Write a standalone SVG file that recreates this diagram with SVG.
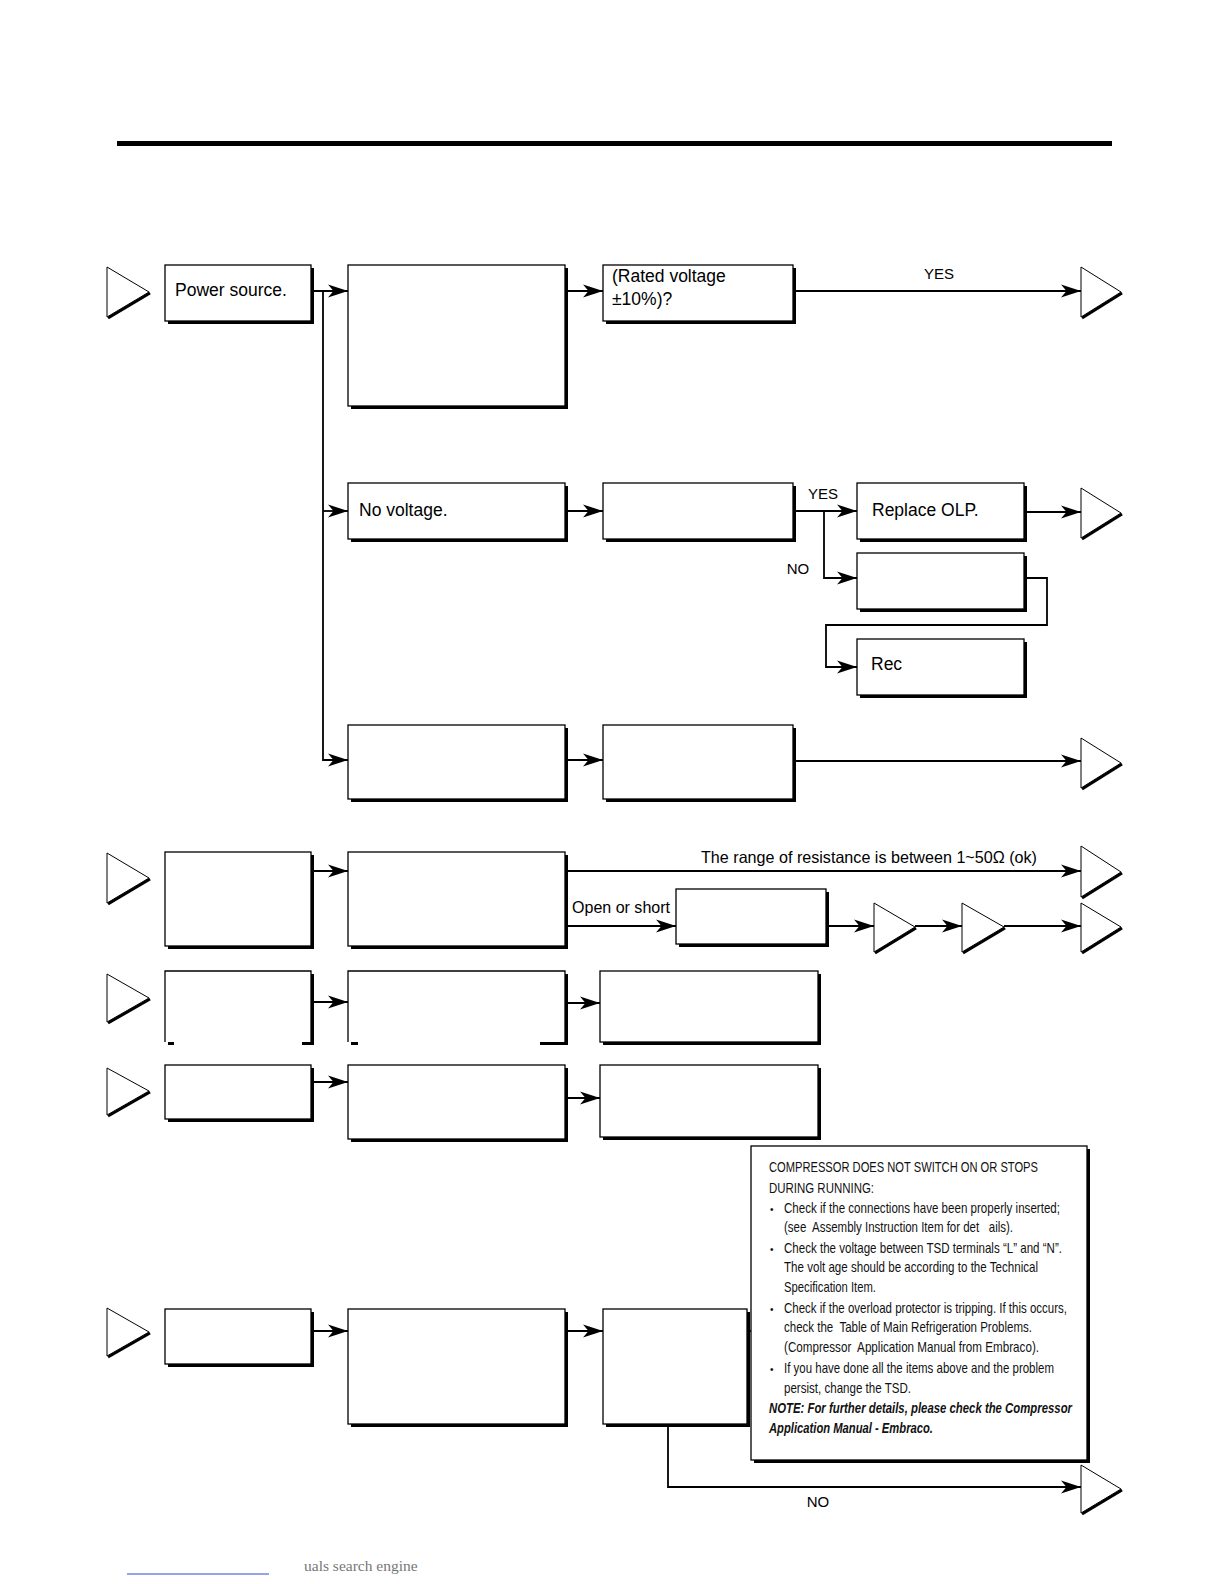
<svg xmlns="http://www.w3.org/2000/svg" width="1224" height="1584" viewBox="0 0 1224 1584">
<style>
.box{fill:#fff;stroke:#000;stroke-width:1.3}
.sh{fill:#000}
.ln{fill:none;stroke:#000;stroke-width:1.8}
.tri{fill:#fff;stroke:#000;stroke-width:1}
.trs{stroke:#000;stroke-width:3;fill:none}
.t{font-family:"Liberation Sans",Arial,Helvetica,sans-serif;font-size:17.5px;fill:#000}
.l{font-family:"Liberation Sans",Arial,Helvetica,sans-serif;font-size:15px;fill:#000}
.lc{font-family:"Liberation Sans",Arial,Helvetica,sans-serif;font-size:16.5px;fill:#000}
.n{font-family:"Liberation Sans",Arial,Helvetica,sans-serif;font-size:15px;fill:#111;white-space:pre}
.nb{font-family:"Liberation Sans",Arial,Helvetica,sans-serif;font-size:15px;font-weight:bold;font-style:italic;fill:#111}
</style>
<defs>
<marker id="ah" markerWidth="22" markerHeight="16" refX="20" refY="7.5" orient="auto" markerUnits="userSpaceOnUse"><path d="M0,1 L20,7.5 L0,14 L5.5,7.5 z" fill="#000"/></marker>
</defs>
<rect x="117" y="141" width="995" height="5" fill="#000"/>

<g id="connectors">
<path class="ln" d="M311,291 H348" marker-end="url(#ah)"/>
<path class="ln" d="M323,291 V760 H348" marker-end="url(#ah)"/>
<path class="ln" d="M323,511 H348" marker-end="url(#ah)"/>
<path class="ln" d="M565,291 H603" marker-end="url(#ah)"/>
<path class="ln" d="M793,291 H1081" marker-end="url(#ah)"/>
<text class="l" x="939" y="279" text-anchor="middle">YES</text>
<path class="ln" d="M565,511 H603" marker-end="url(#ah)"/>
<path class="ln" d="M793,511 H857" marker-end="url(#ah)"/>
<text class="l" x="823" y="499" text-anchor="middle">YES</text>
<path class="ln" d="M824,511 V578 H857" marker-end="url(#ah)"/>
<text class="l" x="798" y="574" text-anchor="middle">NO</text>
<path class="ln" d="M1024,512 H1081" marker-end="url(#ah)"/>
<path class="ln" d="M1024,578 H1047 V625 H826 V667 H857" marker-end="url(#ah)"/>
<path class="ln" d="M565,760 H603" marker-end="url(#ah)"/>
<path class="ln" d="M793,761 H1081" marker-end="url(#ah)"/>
<path class="ln" d="M311,871 H348" marker-end="url(#ah)"/>
<path class="ln" d="M565,871 H1081" marker-end="url(#ah)"/>
<text class="lc" x="701" y="863" textLength="336" lengthAdjust="spacingAndGlyphs">The range of resistance is between 1~50Ω (ok)</text>
<path class="ln" d="M565,926 H676" marker-end="url(#ah)"/>
<text class="lc" x="572" y="913" textLength="98" lengthAdjust="spacingAndGlyphs">Open or short</text>
<path class="ln" d="M826,926 H874" marker-end="url(#ah)"/>
<path class="ln" d="M915,926 H962" marker-end="url(#ah)"/>
<path class="ln" d="M1004,926 H1081" marker-end="url(#ah)"/>
<path class="ln" d="M311,1002 H348" marker-end="url(#ah)"/>
<path class="ln" d="M565,1003 H600" marker-end="url(#ah)"/>
<path class="ln" d="M311,1082 H348" marker-end="url(#ah)"/>
<path class="ln" d="M565,1098 H600" marker-end="url(#ah)"/>
<path class="ln" d="M311,1331 H348" marker-end="url(#ah)"/>
<path class="ln" d="M565,1331 H603" marker-end="url(#ah)"/>
<path class="ln" d="M747,1331 H751"/>
<path class="ln" d="M668,1424 V1487 H1081" marker-end="url(#ah)"/>
<text class="l" x="818" y="1507" text-anchor="middle">NO</text>
</g>

<!-- triangles -->
<g id="tri-r1-in"><line class="trs" x1="108" y1="318" x2="150" y2="293"/><polygon class="tri" points="107,267 107,317 149,292"/></g>
<g id="tri-r1-out"><line class="trs" x1="1082" y1="318" x2="1122" y2="293"/><polygon class="tri" points="1081,267 1081,317 1121,292"/></g>
<g id="tri-r2-out"><line class="trs" x1="1082" y1="539" x2="1122" y2="514"/><polygon class="tri" points="1081,488 1081,538 1121,513"/></g>
<g id="tri-r3-out"><line class="trs" x1="1082" y1="789" x2="1122" y2="764"/><polygon class="tri" points="1081,738 1081,788 1121,763"/></g>
<g id="tri-r4-in"><line class="trs" x1="108" y1="904" x2="150" y2="879"/><polygon class="tri" points="107,853 107,903 149,878"/></g>
<g id="tri-r4-out"><line class="trs" x1="1082" y1="898" x2="1122" y2="873"/><polygon class="tri" points="1081,846 1081,897 1121,872"/></g>
<g id="tri-r4b-1"><line class="trs" x1="875" y1="953" x2="916" y2="928"/><polygon class="tri" points="874,903 874,952 915,927"/></g>
<g id="tri-r4b-2"><line class="trs" x1="963" y1="953" x2="1005" y2="928"/><polygon class="tri" points="962,903 962,952 1004,927"/></g>
<g id="tri-r4b-3"><line class="trs" x1="1082" y1="953" x2="1122" y2="928"/><polygon class="tri" points="1081,903 1081,952 1121,927"/></g>
<g id="tri-r5-in"><line class="trs" x1="108" y1="1023" x2="150" y2="999"/><polygon class="tri" points="107,974 107,1022 149,998"/></g>
<g id="tri-r6-in"><line class="trs" x1="108" y1="1116" x2="150" y2="1092"/><polygon class="tri" points="107,1068 107,1115 149,1091"/></g>
<g id="tri-r7-in"><line class="trs" x1="108" y1="1357" x2="150" y2="1333"/><polygon class="tri" points="107,1308 107,1356 149,1332"/></g>
<g id="tri-r7-out"><line class="trs" x1="1082" y1="1514" x2="1122" y2="1490"/><polygon class="tri" points="1081,1465 1081,1513 1121,1489"/></g>

<!-- row 1 -->
<g id="n-power"><rect class="sh" x="168" y="268" width="146" height="56"/><rect class="box" x="165" y="265" width="146" height="56"/><text class="t" x="175" y="296">Power source.</text></g>
<g id="n-r1b"><rect class="sh" x="351" y="268" width="217" height="141"/><rect class="box" x="348" y="265" width="217" height="141"/></g>
<g id="n-rated"><rect class="sh" x="606" y="268" width="190" height="56"/><rect class="box" x="603" y="265" width="190" height="56"/><text class="t" x="612" y="282">(Rated voltage</text><text class="t" x="612" y="305">±10%)?</text></g>

<!-- row 2 -->
<g id="n-novolt"><rect class="sh" x="351" y="486" width="217" height="56"/><rect class="box" x="348" y="483" width="217" height="56"/><text class="t" x="359" y="516">No voltage.</text></g>
<g id="n-r2c"><rect class="sh" x="606" y="486" width="190" height="56"/><rect class="box" x="603" y="483" width="190" height="56"/></g>
<g id="n-olp"><rect class="sh" x="860" y="486" width="167" height="56"/><rect class="box" x="857" y="483" width="167" height="56"/><text class="t" x="872" y="516">Replace OLP.</text></g>
<g id="n-r2e"><rect class="sh" x="860" y="556" width="167" height="56"/><rect class="box" x="857" y="553" width="167" height="56"/></g>
<g id="n-rec"><rect class="sh" x="860" y="642" width="167" height="56"/><rect class="box" x="857" y="639" width="167" height="56"/><text class="t" x="871" y="670">Rec</text></g>

<!-- row 3 -->
<g id="n-r3b"><rect class="sh" x="351" y="728" width="217" height="74"/><rect class="box" x="348" y="725" width="217" height="74"/></g>
<g id="n-r3c"><rect class="sh" x="606" y="728" width="190" height="74"/><rect class="box" x="603" y="725" width="190" height="74"/></g>

<!-- row 4 -->
<g id="n-r4a"><rect class="sh" x="168" y="855" width="146" height="94"/><rect class="box" x="165" y="852" width="146" height="94"/></g>
<g id="n-r4b"><rect class="sh" x="351" y="855" width="217" height="94"/><rect class="box" x="348" y="852" width="217" height="94"/></g>
<g id="n-r4c"><rect class="sh" x="679" y="892" width="150" height="55"/><rect class="box" x="676" y="889" width="150" height="55"/></g>

<!-- row 5 (bottom edges broken) -->
<g id="n-r5a"><rect x="165" y="971" width="146" height="71" fill="#fff"/><path class="ln" d="M165,1042 V971 H311 V1042" style="stroke-width:1.3"/><rect class="sh" x="311" y="974" width="3" height="71"/><rect class="sh" x="302" y="1042" width="12" height="3"/><rect class="sh" x="168" y="1042" width="6" height="3"/></g>
<g id="n-r5b"><rect x="348" y="971" width="217" height="71" fill="#fff"/><path class="ln" d="M348,1042 V971 H565 V1042" style="stroke-width:1.3"/><rect class="sh" x="565" y="974" width="3" height="71"/><rect class="sh" x="540" y="1042" width="28" height="3"/><rect class="sh" x="351" y="1042" width="7" height="3"/></g>
<g id="n-r5c"><rect class="sh" x="603" y="974" width="218" height="71"/><rect class="box" x="600" y="971" width="218" height="71"/></g>

<!-- row 6 -->
<g id="n-r6a"><rect class="sh" x="168" y="1068" width="146" height="54"/><rect class="box" x="165" y="1065" width="146" height="54"/></g>
<g id="n-r6b"><rect class="sh" x="351" y="1068" width="217" height="74"/><rect class="box" x="348" y="1065" width="217" height="74"/></g>
<g id="n-r6c"><rect class="sh" x="603" y="1068" width="218" height="72"/><rect class="box" x="600" y="1065" width="218" height="72"/></g>

<!-- row 7 -->
<g id="n-r7a"><rect class="sh" x="168" y="1312" width="146" height="55"/><rect class="box" x="165" y="1309" width="146" height="55"/></g>
<g id="n-r7b"><rect class="sh" x="351" y="1312" width="217" height="115"/><rect class="box" x="348" y="1309" width="217" height="115"/></g>
<g id="n-r7c"><rect class="sh" x="606" y="1312" width="144" height="115"/><rect class="box" x="603" y="1309" width="144" height="115"/></g>

<g id="n-note">
<rect class="sh" x="754" y="1149" width="336" height="314"/>
<rect class="box" x="751" y="1146" width="336" height="314"/>
<text class="n" x="769" y="1172" textLength="269" lengthAdjust="spacingAndGlyphs">COMPRESSOR DOES NOT SWITCH ON OR STOPS</text>
<text class="n" x="769" y="1193" textLength="105" lengthAdjust="spacingAndGlyphs">DURING RUNNING:</text>
<text class="n" x="770" y="1213" style="font-size:10px">•</text>
<text class="n" x="784" y="1213" textLength="276" lengthAdjust="spacingAndGlyphs">Check if the connections have been properly inserted;</text>
<text class="n" x="784" y="1232" textLength="229" lengthAdjust="spacingAndGlyphs">(see  Assembly Instruction Item for det   ails).</text>
<text class="n" x="770" y="1253" style="font-size:10px">•</text>
<text class="n" x="784" y="1253" textLength="278" lengthAdjust="spacingAndGlyphs">Check the voltage between TSD terminals “L” and “N”.</text>
<text class="n" x="784" y="1272" textLength="254" lengthAdjust="spacingAndGlyphs">The volt age should be according to the Technical</text>
<text class="n" x="784" y="1292" textLength="92" lengthAdjust="spacingAndGlyphs">Specification Item.</text>
<text class="n" x="770" y="1313" style="font-size:10px">•</text>
<text class="n" x="784" y="1313" textLength="283" lengthAdjust="spacingAndGlyphs">Check if the overload protector is tripping. If this occurs,</text>
<text class="n" x="784" y="1332" textLength="248" lengthAdjust="spacingAndGlyphs">check the  Table of Main Refrigeration Problems.</text>
<text class="n" x="784" y="1352" textLength="255" lengthAdjust="spacingAndGlyphs">(Compressor  Application Manual from Embraco).</text>
<text class="n" x="770" y="1373" style="font-size:10px">•</text>
<text class="n" x="784" y="1373" textLength="270" lengthAdjust="spacingAndGlyphs">If you have done all the items above and the problem</text>
<text class="n" x="784" y="1393" textLength="127" lengthAdjust="spacingAndGlyphs">persist, change the TSD.</text>
<text class="nb" x="769" y="1413" textLength="303" lengthAdjust="spacingAndGlyphs">NOTE: For further details, please check the Compressor</text>
<text class="nb" x="769" y="1433" textLength="164" lengthAdjust="spacingAndGlyphs">Application Manual - Embraco.</text>
</g>

<line x1="127" y1="1574" x2="269" y2="1574" stroke="#3344cc" stroke-width="1"/>
<text x="304" y="1571" style="font-family:'Liberation Serif','Times New Roman',serif;font-size:15.5px;fill:#777">uals search engine</text>
</svg>
